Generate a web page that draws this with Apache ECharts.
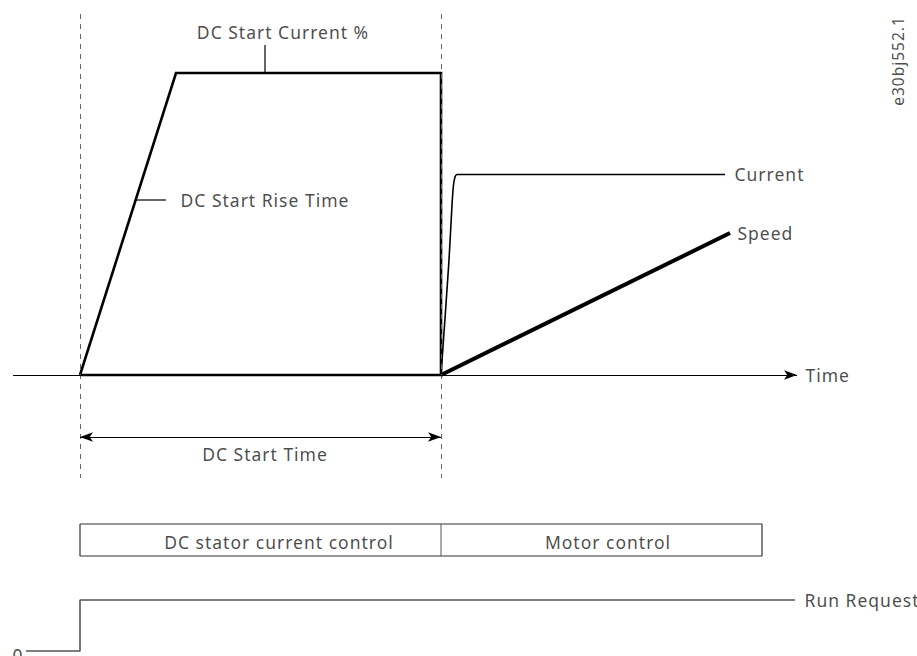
<!DOCTYPE html>
<html>
<head>
<meta charset="utf-8">
<script src="https://cdn.jsdelivr.net/npm/echarts@6/dist/echarts.min.js"></script>
<style>
  html, body { margin: 0; padding: 0; background: #fff; }
  #chart { width: 917px; height: 656px; }
  /* the source drawing uses a wide, loosely spaced face */
  #chart text { letter-spacing: 1px; }
</style>
</head>
<body>
<div id="chart"></div>
<script>
// time is counted from the DC start, level 0 is the time axis
const dcStart = 0
const dcRiseEnd = 96
const dcEnd = 361
const dcLevel = 302

const trapezoid = [[dcStart, 0], [dcRiseEnd, dcLevel], [dcEnd, dcLevel], [dcEnd, 0], [dcStart, 0]]

const currentTime = [361, 369, 372, 373.5, 375, 377, 645]
const currentLevel = [0, 115, 170, 190, 198, 200.5, 200.5]

const speedTime = [361, 650]
const speedLevel = [0, 142]

const timeAxisFrom = -67
const timeAxisTo = 717
const dcTimeArrowLevel = -62
const dashTop = 361
const dashBottom = -103

const boxFrom = 0
const boxTo = 682
const boxTop = -149
const boxBottom = -181
const boxLabels = ['DC stator current control', 'Motor control']
const boxLabelTime = [199, 528]

const runTime = [-54, 0, 0, 715]
const runLevel = [-276, -276, -225, -225]

// annotation leaders
const currentPctLeader = [[185, 330], [185, 302]]
const riseTimeLeader = [[56, 175], [86, 175]]

const font = '"Noto Sans", "Open Sans", sans-serif'

const chart = echarts.init(document.getElementById('chart'), null, { renderer: 'svg' })

function zip(xs, ys) {
  return xs.map((x, i) => [x, ys[i]])
}

function textItem(x, y, text, opts) {
  return {
    value: [x, y],
    label: Object.assign({ formatter: text }, opts || {})
  }
}

const labels = [
  textItem(203, 343, 'DC Start Current %', { position: 'inside', align: 'center' }),
  textItem(100, 175, 'DC Start Rise Time', { position: 'right', distance: 0 }),
  textItem(654, 201, 'Current', { position: 'right', distance: 0 }),
  textItem(657, 142, 'Speed', { position: 'right', distance: 0 }),
  textItem(725, 0, 'Time', { position: 'right', distance: 0 }),
  textItem(185, -79, 'DC Start Time', { position: 'inside', align: 'center' }),
  textItem(boxLabelTime[0], -166.5, boxLabels[0], { position: 'inside', align: 'center' }),
  textItem(boxLabelTime[1], -166.5, boxLabels[1], { position: 'inside', align: 'center' }),
  textItem(724, -225, 'Run Request', { position: 'right', distance: 0 }),
  textItem(-62, -280, '0', { position: 'inside', align: 'center' }),
  textItem(818, 314, 'e30bj552.1', { position: 'inside', align: 'center', rotate: 90, fontSize: 15.5 })
]

const option = {
  backgroundColor: '#fff',
  animation: false,
  grid: { left: 0, right: 0, top: 0, bottom: 0 },
  xAxis: { type: 'value', min: -80, max: 837, show: false },
  yAxis: { type: 'value', min: -281, max: 375, show: false },
  series: [
    {
      type: 'line',
      data: trapezoid,
      symbol: 'none',
      lineStyle: { color: '#000', width: 2.6, join: 'miter' },
      markLine: {
        silent: true,
        symbol: ['none', 'none'],
        label: { show: false },
        lineStyle: { color: '#666', width: 1, type: [5, 5] },
        data: [
          [{ coord: [dcStart, dashTop] }, { coord: [dcStart, dashBottom] }],
          [{ coord: [dcEnd, dashTop] }, { coord: [dcEnd, dashBottom] }],
          [
            { coord: [timeAxisFrom, 0], lineStyle: { color: '#000', width: 1.2, type: 'solid' }, symbol: 'none' },
            { coord: [timeAxisTo, 0], symbol: 'arrow', symbolSize: [7, 13] }
          ],
          [
            { coord: [dcStart, dcTimeArrowLevel], lineStyle: { color: '#000', width: 1.2, type: 'solid' }, symbol: 'arrow', symbolSize: [7, 13] },
            { coord: [dcEnd, dcTimeArrowLevel], symbol: 'arrow', symbolSize: [7, 13] }
          ]
        ]
      }
    },
    {
      type: 'line',
      data: zip(currentTime, currentLevel),
      symbol: 'none',
      smooth: 0.3,
      lineStyle: { color: '#000', width: 1.6 }
    },
    {
      type: 'line',
      data: zip(speedTime, speedLevel),
      symbol: 'none',
      lineStyle: { color: '#000', width: 4 }
    },
    {
      type: 'line',
      data: currentPctLeader,
      symbol: 'none',
      lineStyle: { color: '#000', width: 1.2 }
    },
    {
      type: 'line',
      data: riseTimeLeader,
      symbol: 'none',
      lineStyle: { color: '#000', width: 1.2 }
    },
    {
      type: 'line',
      data: [[boxFrom, boxTop], [boxTo, boxTop], [boxTo, boxBottom], [boxFrom, boxBottom], [boxFrom, boxTop]],
      symbol: 'none',
      lineStyle: { color: '#333', width: 1.2 }
    },
    {
      type: 'line',
      data: [[dcEnd, boxTop], [dcEnd, boxBottom]],
      symbol: 'none',
      lineStyle: { color: '#555', width: 1 }
    },
    {
      type: 'line',
      data: zip(runTime, runLevel),
      symbol: 'none',
      lineStyle: { color: '#555', width: 1.6 }
    },
    {
      type: 'scatter',
      data: labels,
      symbolSize: 1,
      itemStyle: { color: 'rgba(0,0,0,0)' },
      silent: true,
      label: {
        show: true,
        color: '#1a1a1a',
        fontFamily: font,
        fontSize: 17.5
      }
    }
  ]
}

chart.setOption(option)
window.addEventListener('resize', () => chart.resize())
</script>
</body>
</html>
